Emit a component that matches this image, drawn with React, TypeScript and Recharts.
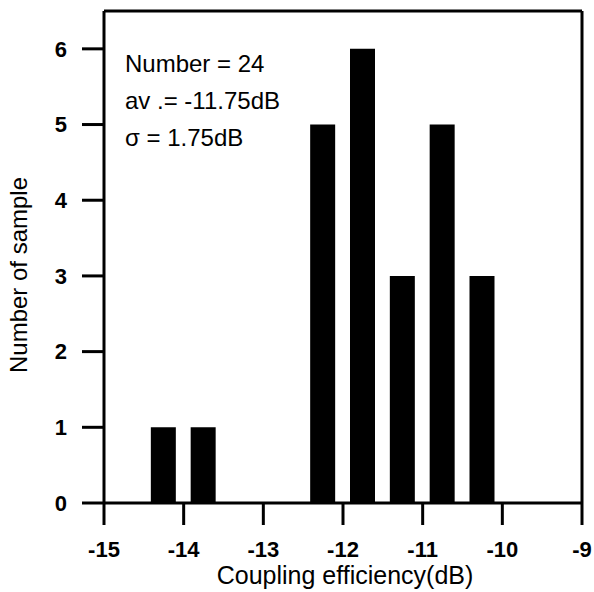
import React from 'react';
import { Bar, BarChart, Customized, ReferenceLine, XAxis, YAxis } from 'recharts';

// bin centres (dB) and counts
const binCenters = [-14.25, -13.75, -12.25, -11.75, -11.25, -10.75, -10.25];
const counts = [1, 1, 5, 6, 3, 5, 3];
const xTicks = [-15, -14, -13, -12, -11, -10, -9];
const yTicks = [0, 1, 2, 3, 4, 5, 6];
const notes = ['Number = 24', 'av .= -11.75dB', 'σ = 1.75dB'];

const FONT = '"Liberation Sans", Arial, sans-serif';

const data = binCenters.map((c, i) => ({ center: c, count: counts[i] }));

const Labels = () => (
  <g fontFamily={FONT} fill="#000">
    <text x={345} y={584} fontSize={25} textAnchor="middle">
      Coupling efficiency(dB)
    </text>
    <text x={27} y={275} fontSize={24} textAnchor="middle" transform="rotate(-90 27 275)">
      Number of sample
    </text>
    {notes.map((n, i) => (
      <text key={n} x={125} y={72 + i * 37} fontSize={24}>
        {n}
      </text>
    ))}
  </g>
);

const App: React.FC = () => {
  const tickStyle = { fontFamily: FONT, fontSize: 22, fontWeight: 'bold', fill: '#000' };
  return (
    <div style={{ position: 'absolute', left: 0, top: 0, width: 594, height: 592, background: '#fff' }}>
      <BarChart width={594} height={592} data={data} margin={{ top: 11, right: 12, bottom: 0, left: 0 }}>
        <XAxis
          dataKey="center"
          type="number"
          domain={[-15, -9]}
          ticks={xTicks}
          interval={0}
          height={89}
          tickSize={22}
          tickMargin={16}
          tick={tickStyle}
          axisLine={{ stroke: '#000', strokeWidth: 3 }}
          tickLine={{ stroke: '#000', strokeWidth: 3 }}
        />
        <YAxis
          type="number"
          domain={[0, 6.5]}
          ticks={yTicks}
          interval={0}
          width={104}
          tickSize={22}
          tickMargin={15}
          tick={tickStyle}
          axisLine={{ stroke: '#000', strokeWidth: 3 }}
          tickLine={{ stroke: '#000', strokeWidth: 3 }}
        />
        <ReferenceLine y={6.5} stroke="#000" strokeWidth={3} />
        <ReferenceLine x={-9} stroke="#000" strokeWidth={3} />
        <Bar dataKey="count" fill="#000" barSize={25} isAnimationActive={false} />
        <Customized component={Labels} />
      </BarChart>
    </div>
  );
};

export default App;
